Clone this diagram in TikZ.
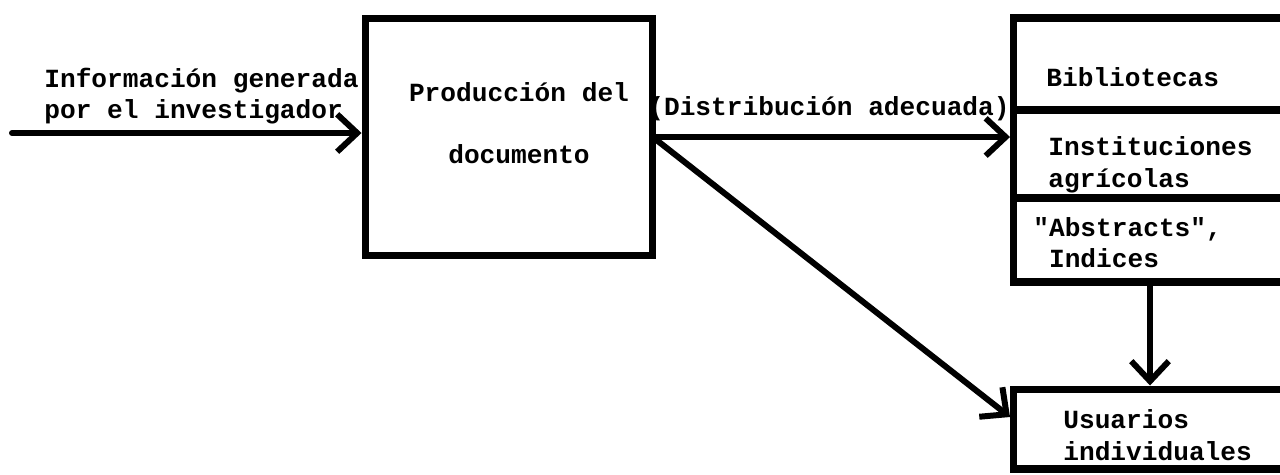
\documentclass[tikz,border=0pt]{standalone}
\usepackage{fontspec}
\setmonofont{Liberation Mono}
\usetikzlibrary{arrows.meta}
\begin{document}
\begin{tikzpicture}[x=0.02cm,y=-0.02cm,
  box/.style={draw,line width=4pt,inner sep=0pt,minimum width=5.74cm},
  lbl/.style={font=\ttfamily\bfseries\fontsize{14.9}{#1}\selectfont,inner sep=0pt},
  conn/.style={line width=3.4pt,line cap=round,-{Straight Barb[length=4mm,width=7.5mm]}}]
\useasboundingbox (0,0) rectangle (1280,474);
\clip (0,0) rectangle (1280,474);
% boxes
\node[box,minimum width=5.76cm,minimum height=4.76cm] (prod) at (509,137) {};
\node[box,minimum height=1.84cm] (bib)  at (1157,64)  {};
\node[box,minimum height=1.76cm] (inst) at (1157,154) {};
\node[box,minimum height=1.68cm] (abs)  at (1157,240) {};
\node[box,minimum height=1.6cm]  (usu)  at (1157,429) {};
% texts
\node[lbl=18.1,anchor=west,align=left] (intxt) at (44,96) {Información generada\\por el investigador};
\node[lbl=35.4,align=center] (prodtxt) at (519,123) {Producción del\\documento};
\node[lbl=18,anchor=center] (disttxt) at (829,109) {(Distribución adecuada)};
\node[lbl=18,anchor=west] (bibtxt) at (1046,77) {Bibliotecas};
\node[lbl=18.1,anchor=west,align=left] (insttxt) at (1048,165) {Instituciones\\agrícolas};
\node[lbl=17.6,anchor=west,align=left] (abstxt) at (1033,243) {"Abstracts",\\\hspace*{0.6em}Indices};
\node[lbl=18.1,anchor=west,align=left] (usutxt) at (1063,435) {Usuarios\\individuales};
% connectors
\coordinate (inA) at (12,133);
\coordinate (vx) at (1150,0);
\draw[conn] (inA) -- (inA -| prod.west);
\draw[conn] (prod.east) -- (prod.east -| inst.west);
\draw[conn] ([yshift=-0.06cm]prod.east) -- ([yshift=0.24cm]usu.west);
\draw[conn] (abs.south -| vx) -- (usu.north -| vx);
\end{tikzpicture}
\end{document}
